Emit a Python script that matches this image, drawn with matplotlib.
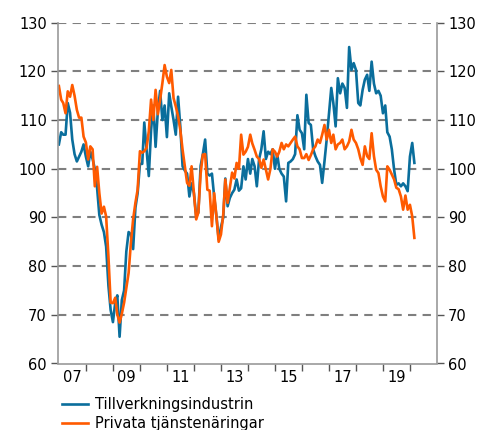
import matplotlib
matplotlib.use("Agg")
import matplotlib.pyplot as plt
import pandas as pd

months = pd.date_range("2007-01-01", periods=159, freq="MS")

tillverkning = [
    105, 107.5, 107, 107, 113.5, 111.5, 106, 103, 101.5, 102.5, 103.5, 105,
    102.5, 100.5, 103.5, 102, 100, 96, 90.5, 88.5, 87, 84, 76, 71,
    68.5, 72.5, 74, 65.5, 73, 75, 83, 87, 86.5, 83.5, 92, 95,
    101, 101, 109.5, 104, 98.5, 108, 113, 104.5, 112, 116, 110, 113,
    106.5, 115.5, 112.8, 110, 107, 114.8, 108.7, 100.5, 99.6, 99, 94.3, 97,
    95, 90.2, 91, 100.6, 103, 106, 99, 98.6, 99, 94.3, 90.2, 85.5,
    88, 90, 98, 92.3, 94, 95, 95.7, 97.8, 95.5, 96, 100.5, 97.8,
    102, 99, 102, 100.5, 96.4, 102, 104, 107.7, 102, 103.5, 103, 104,
    100, 103, 100, 99, 98.4, 93.3, 101.2, 101.5, 102, 103, 111, 108,
    107.3, 104, 115.2, 109.4, 109, 104, 102.6, 101.5, 100.8, 97.1, 101.5, 106,
    111.4, 116.6, 113.5, 108.7, 118.6, 115.5, 117.5, 116.6, 112.5, 125, 120.3, 121.7,
    120.3, 113.5, 113, 116.2, 118.3, 119.3, 116, 122, 117.5, 115.5, 116,
    115, 111.4, 113, 107.5, 106.6, 104, 99.8, 96.7, 97, 96.4, 97, 96.4,
    95.4, 102.5, 105.3, 101.2,
]

privata = [
    117, 114.2, 113.5, 111.4, 115.9, 114.8, 117.2, 115, 112.1, 110.5, 110.5, 106.6,
    105.4, 101.9, 104.6, 104, 96.4, 100.4, 95, 90.8, 92.2, 90.2, 82, 72.5,
    72.4, 73.5, 70.1, 68.4, 70.2, 72.5, 75.5, 78.6, 84.8, 89.6, 93, 95.7,
    103.6, 103.3, 103.6, 104.3, 107.7, 114.2, 110, 116.2, 111.2, 114.2, 117.6, 121.3,
    118.9, 117.6, 120.3, 114.5, 112.8, 110.8, 108, 103.9, 100.5, 97.1, 96.5, 100.5,
    95, 89.6, 91, 99, 102.9, 103, 95.7, 95.5, 88.2, 95, 90.2, 85,
    86.5, 90.6, 97.8, 93, 96, 99.2, 98, 101.2, 100, 107, 102.9, 103.5,
    104.5, 107, 105.2, 103.9, 102.5, 102, 100.2, 101.9, 99.8, 97.8, 100, 104,
    103.5, 102.5, 103.5, 105.3, 104, 105, 104.6, 105.3, 106, 106.6, 104.6, 104,
    102.2, 102.2, 103, 101.8, 102.8, 104, 104.6, 106, 105.3, 107, 109, 106,
    108, 105.3, 107, 104, 105, 105.3, 106, 104, 104.6, 105.6, 108, 106,
    105.3, 104, 102.2, 100.8, 104.6, 102.6, 102, 107.3, 102.6, 99.8, 99.1, 96.4,
    94.3, 93.3, 100.5, 99.8, 98.8, 97.8, 96.1, 95.8, 94.3, 91.6, 94.5, 91.6,
    92.6, 90.2, 85.8,
]

series_names = ["Tillverkningsindustrin", "Privata tjänstenäringar"]
series_colors = ["#0A6E9C", "#FF5A00"]
y_ticks = [60, 70, 80, 90, 100, 110, 120, 130]
year_labels = ["07", "09", "11", "13", "15", "17", "19"]
label_years = [2007, 2009, 2011, 2013, 2015, 2017, 2019]

plt.rcParams["font.family"] = ["DejaVu Sans"]
fig = plt.figure(figsize=(4.89, 4.30), dpi=100)
ax = fig.add_axes([58 / 489, 1 - 363.5 / 430, (437 - 58) / 489, (363.5 - 22.7) / 430])

for vals, name, col in zip([tillverkning, privata], series_names, series_colors):
    ax.plot(months, vals, color=col, lw=1.9, label=name)

ax.set_ylim(60, 130)
ax.set_xlim(pd.Timestamp("2006-12-20"), pd.Timestamp("2021-01-01"))

for yv in y_ticks[1:]:
    ax.axhline(yv, color="#7f7f7f", lw=1.5, ls=(0, (4, 3)), zorder=0)

ax.set_yticks(y_ticks)
ax.tick_params(axis="y", which="both", direction="out", length=5, width=1,
               color="#555555", labelsize=10.5, left=True, right=True,
               labelleft=True, labelright=True, pad=3)

major = [pd.Timestamp(f"{y}-01-01") for y in range(2008, 2021)]
ax.set_xticks(major)
ax.set_xticklabels([""] * len(major))
minor = [pd.Timestamp(f"{y}-07-01") for y in label_years]
ax.set_xticks(minor, minor=True)
ax.set_xticklabels(year_labels, minor=True)
ax.tick_params(axis="x", which="major", direction="out", length=5, width=1, color="#555555")
ax.tick_params(axis="x", which="minor", length=0, labelsize=10.5, pad=5)

for s in ["left", "right", "bottom"]:
    ax.spines[s].set_color("#999999")
    ax.spines[s].set_linewidth(1.2)
ax.spines["top"].set_visible(False)

leg = fig.legend(loc="upper left", bbox_to_anchor=(62 / 489, 1 - 397 / 430),
                 frameon=False, fontsize=10.5, handlelength=1.8, handletextpad=0.45,
                 labelspacing=0.3, borderaxespad=0, borderpad=0)

fig.savefig("out.png", dpi=100)
